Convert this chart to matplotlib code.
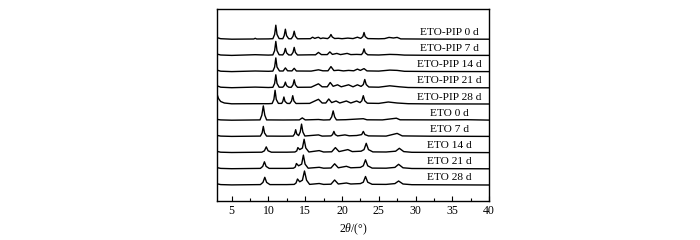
import matplotlib
matplotlib.use('Agg')
import matplotlib.pyplot as plt
from matplotlib.ticker import MultipleLocator

plt.rcParams['font.family'] = ['Liberation Serif', 'DejaVu Serif']
plt.rcParams['mathtext.fontset'] = 'custom'
plt.rcParams['mathtext.it'] = 'Liberation Serif:italic'
plt.rcParams['mathtext.rm'] = 'Liberation Serif'

# XRD patterns: (2theta, intensity a.u.)
eto_pip_0d = [(3.0, 1.6), (3.5, 0.5), (5.0, 0.0), (8.0, 0.2), (8.2, 0.9), (8.4, 0.2), (10.0, 0.3),
              (10.6, 0.5), (10.84, 4.8), (11.0, 14.0), (11.16, 4.8), (11.45, 0.6),
              (11.95, 0.5), (12.14, 3.6), (12.3, 10.0), (12.46, 3.6), (12.75, 0.5),
              (13.1, 0.4), (13.34, 3.0), (13.5, 8.0), (13.66, 3.0), (13.95, 0.4),
              (15.7, 0.5), (16.0, 2.0), (16.3, 0.8), (16.6, 1.6), (16.8, 1.9), (17.1, 0.6),
              (17.4, 1.2), (18.05, 0.6), (18.32, 2.2), (18.5, 4.7), (18.68, 2.2), (19.0, 0.7),
              (19.5, 0.9), (20.0, 0.5), (20.8, 1.1), (21.5, 0.6), (22.1, 2.0), (22.55, 0.8),
              (22.84, 2.6), (23.0, 6.7), (23.16, 2.6), (23.5, 0.6), (25.0, 0.4), (25.8, 0.6),
              (26.4, 1.8), (27.0, 1.2), (27.5, 1.8), (28.0, 0.3), (32.0, 0.1), (40.0, 0.0)]
eto_pip_7d = [(3.0, 1.3), (3.5, 0.4), (5.0, 0.0), (8.2, 0.7), (10.0, 0.3),
              (10.6, 0.5), (10.84, 4.8), (11.0, 14.0), (11.16, 4.8), (11.45, 0.6),
              (11.95, 0.5), (12.14, 2.6), (12.3, 7.0), (12.46, 2.6), (12.75, 0.5),
              (13.1, 0.4), (13.34, 3.0), (13.5, 8.0), (13.66, 3.0), (13.95, 0.4),
              (15.8, 0.6), (16.4, 0.6), (16.8, 3.0), (17.2, 0.8), (18.0, 0.8), (18.35, 3.5),
              (18.7, 1.0), (19.3, 2.0), (19.8, 0.8), (20.7, 2.0), (21.2, 0.8), (22.0, 1.0),
              (22.65, 0.8), (22.84, 2.6), (23.0, 6.5), (23.16, 2.6), (23.5, 0.6), (25.0, 0.4),
              (26.5, 1.0), (27.5, 0.8), (28.5, 0.3), (32.0, 0.1), (40.0, 0.0)]
eto_pip_14d = [(3.0, 1.5), (3.5, 0.4), (5.0, 0.0), (8.2, 0.6), (10.0, 0.3),
               (10.6, 0.5), (10.84, 4.6), (11.0, 13.7), (11.16, 4.6), (11.5, 0.6),
               (12.0, 0.6), (12.3, 3.7), (12.6, 0.8), (13.2, 0.7), (13.5, 3.3), (13.8, 0.6),
               (15.8, 0.5), (16.8, 1.8), (17.4, 0.8), (18.1, 0.8), (18.5, 5.0), (18.9, 1.0),
               (19.5, 1.4), (20.2, 0.7), (20.9, 1.2), (21.6, 0.8), (22.1, 2.5), (22.5, 1.2),
               (23.0, 3.0), (23.4, 0.7), (25.0, 0.5), (26.5, 1.5), (27.5, 1.2), (28.5, 0.3),
               (32.0, 0.1), (40.0, 0.0)]
eto_pip_21d = [(3.0, 2.0), (3.5, 0.6), (5.0, 0.1), (8.2, 0.7), (10.0, 0.3),
               (10.6, 0.5), (10.84, 4.4), (11.0, 13.0), (11.16, 4.4), (11.45, 0.6),
               (11.95, 0.6), (12.14, 2.2), (12.3, 5.7), (12.46, 2.2), (12.75, 0.6),
               (13.1, 0.5), (13.34, 3.0), (13.5, 8.0), (13.66, 3.0), (13.95, 0.5),
               (15.8, 0.6), (16.8, 4.0), (17.3, 1.0), (18.0, 1.0), (18.4, 5.3), (18.8, 1.5),
               (19.4, 3.0), (19.9, 1.0), (20.9, 3.0), (21.5, 1.0), (22.1, 3.0), (22.6, 1.4),
               (22.9, 3.2), (23.1, 8.3), (23.3, 3.2), (23.65, 0.8), (25.0, 0.6), (26.5, 2.0),
               (27.8, 1.0), (29.0, 0.3), (32.0, 0.1), (40.0, 0.0)]
eto_pip_28d = [(3.0, 10.0), (3.2, 5.5), (3.5, 2.5), (4.0, 1.0), (5.0, 0.2), (8.0, 0.3), (10.0, 0.3),
               (10.5, 0.5), (10.74, 4.6), (10.9, 13.7), (11.06, 4.6), (11.35, 0.6),
               (11.8, 0.6), (11.95, 2.6), (12.1, 7.0), (12.25, 2.6), (12.55, 0.6),
               (12.9, 0.5), (13.14, 3.0), (13.3, 8.3), (13.46, 3.0), (13.75, 0.5),
               (15.6, 0.6), (16.8, 4.7), (17.3, 1.0), (17.8, 1.0), (18.2, 5.0), (18.6, 1.4),
               (19.2, 3.0), (19.7, 1.0), (20.6, 3.0), (21.2, 1.0), (22.0, 3.0), (22.45, 1.4),
               (22.7, 3.2), (22.9, 8.3), (23.1, 3.2), (23.45, 0.8), (25.0, 0.6), (26.3, 2.0),
               (27.5, 1.0), (29.0, 0.3), (32.0, 0.1), (40.0, 0.0)]
eto_0d = [(3.0, 0.8), (3.5, 0.3), (5.0, 0.0), (8.85, 0.3), (9.1, 5.0), (9.3, 14.3), (9.5, 5.0),
          (9.75, 0.3), (12.0, 0.2), (14.2, 0.3), (14.6, 2.3), (15.0, 0.3), (16.8, 0.7), (17.5, 0.2),
          (18.35, 0.4), (18.6, 3.3), (18.8, 9.3), (19.0, 3.3), (19.25, 0.3), (20.5, 0.5),
          (22.9, 1.5), (23.4, 0.4), (25.5, 0.3), (27.4, 2.0), (27.9, 0.4), (33.0, 0.3),
          (37.0, 0.5), (40.0, 0.1)]
eto_7d = [(3.0, 1.0), (3.5, 0.3), (5.0, 0.0), (8.9, 0.3), (9.14, 3.5), (9.3, 10.0), (9.46, 3.5),
          (9.75, 0.3), (12.0, 0.2),
          (13.35, 0.3), (13.55, 2.4), (13.7, 6.7), (13.85, 2.4), (14.1, 0.8),
          (14.32, 4.4), (14.5, 12.3), (14.68, 4.4), (14.95, 0.4),
          (16.8, 1.5), (17.3, 0.3), (18.5, 0.5), (18.72, 1.8), (18.9, 5.0), (19.08, 1.8),
          (19.4, 0.5), (20.4, 1.5), (21.0, 0.6), (22.0, 0.9), (22.68, 1.8), (22.9, 5.0),
          (23.12, 1.8), (23.6, 0.5), (26.0, 0.3), (27.5, 3.0), (28.2, 0.5), (32.0, 0.2), (40.0, 0.0)]
eto_14d = [(3.0, 1.2), (3.5, 0.4), (5.0, 0.1), (9.1, 0.4), (9.45, 1.8), (9.7, 5.7), (9.95, 1.8),
           (10.4, 0.4), (12.5, 0.4),
           (13.6, 0.6), (13.85, 1.7), (14.0, 5.0), (14.25, 3.0),
           (14.62, 4.6), (14.85, 13.3), (15.08, 4.6), (15.5, 0.6),
           (16.9, 2.0), (17.5, 0.6), (18.6, 0.8), (19.1, 5.0), (19.6, 1.0), (20.8, 3.0),
           (21.4, 1.0), (22.6, 1.4), (23.0, 3.0), (23.3, 9.3), (23.6, 3.0), (24.2, 0.7),
           (26.0, 0.6), (27.3, 1.4), (27.8, 4.3), (28.4, 1.0), (29.5, 0.3), (33.0, 0.2), (40.0, 0.0)]
eto_21d = [(3.0, 1.2), (3.5, 0.4), (5.0, 0.1), (8.9, 0.4), (9.22, 2.4), (9.45, 7.0), (9.68, 2.4),
           (10.1, 0.4), (12.5, 0.4),
           (13.4, 0.6), (13.65, 1.8), (13.8, 5.3), (14.1, 3.0),
           (14.52, 4.7), (14.75, 13.7), (14.98, 4.7), (15.4, 0.6),
           (16.9, 1.5), (17.5, 0.6), (18.5, 0.8), (19.0, 5.0), (19.5, 1.0), (20.6, 2.5),
           (21.2, 1.0), (22.5, 1.4), (22.9, 3.0), (23.2, 9.0), (23.5, 3.0), (24.1, 0.7),
           (26.0, 0.6), (27.2, 1.4), (27.7, 4.5), (28.3, 1.0), (29.5, 0.3), (33.0, 0.2), (40.0, 0.0)]
eto_28d = [(3.0, 1.2), (3.5, 0.4), (5.0, 0.1), (8.9, 0.4), (9.25, 2.6), (9.5, 7.7), (9.75, 2.6),
           (10.2, 0.4), (12.5, 0.4),
           (13.5, 0.6), (13.75, 2.0), (13.95, 6.0), (14.25, 3.2),
           (14.62, 4.8), (14.9, 14.0), (15.18, 4.8), (15.6, 0.6),
           (16.9, 1.5), (17.5, 0.6), (18.5, 0.8), (19.0, 5.0), (19.5, 1.0), (20.6, 2.0),
           (21.2, 1.0), (22.5, 1.4), (22.9, 2.8), (23.2, 8.5), (23.5, 2.8), (24.1, 0.7),
           (26.0, 0.6), (27.2, 1.4), (27.7, 4.0), (28.3, 1.0), (29.5, 0.3), (33.0, 0.2), (40.0, 0.0)]

patterns = [eto_pip_0d, eto_pip_7d, eto_pip_14d, eto_pip_21d, eto_pip_28d,
            eto_0d, eto_7d, eto_14d, eto_21d, eto_28d]
labels = ['ETO-PIP 0 d', 'ETO-PIP 7 d', 'ETO-PIP 14 d', 'ETO-PIP 21 d', 'ETO-PIP 28 d',
          'ETO 0 d', 'ETO 7 d', 'ETO 14 d', 'ETO 21 d', 'ETO 28 d']

# stacking
base = 16.0
step = 16.2

fig = plt.figure(figsize=(7, 2.4), dpi=100)
ax = fig.add_axes([0.31, 0.1625, 0.3886, 0.80])

n = len(patterns)
for i, (pat, lab) in enumerate(zip(patterns, labels)):
    off = base + step * (n - 1 - i)
    tth, inten = zip(*pat)
    ax.plot(tth, [v + off for v in inten], color='black', lw=1.0)
    ax.text(34.6, off + 7.0, lab, ha='center', va='center', fontsize=8.2)

ax.set_xlim(3, 40)
ax.set_ylim(0, 192)
ax.xaxis.set_major_locator(MultipleLocator(5))
ax.xaxis.set_minor_locator(MultipleLocator(2.5))
ax.tick_params(axis='x', which='major', direction='in', length=3.5, width=0.8,
               labelsize=8.5, pad=3)
ax.tick_params(axis='x', which='minor', direction='in', length=2, width=0.8)
ax.set_yticks([])
for sp in ax.spines.values():
    sp.set_linewidth(1.0)
ax.set_xlabel(r'2$\mathit{\theta}$/(°)', fontsize=8.5, labelpad=3)

plt.savefig('out.png', dpi=100)
